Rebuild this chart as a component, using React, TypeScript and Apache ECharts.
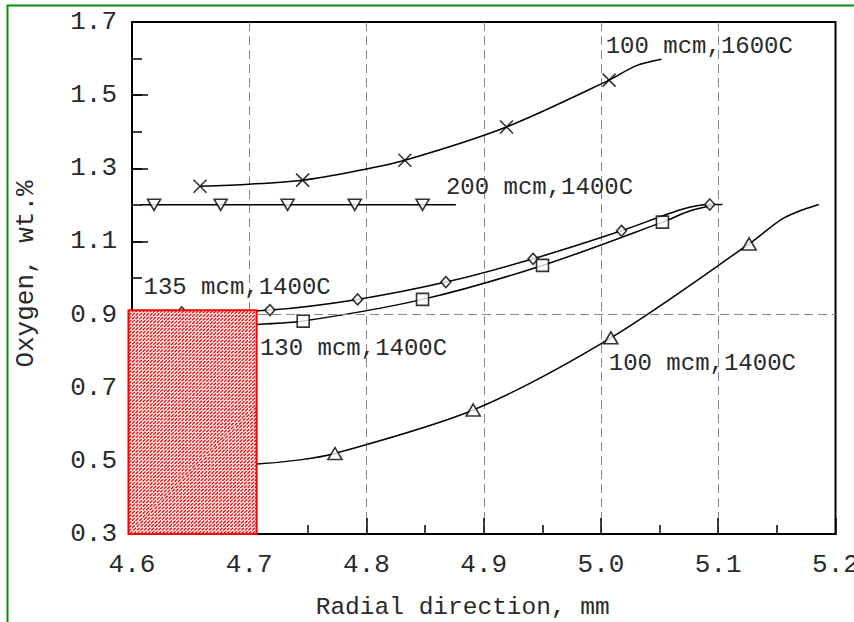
import React, { useEffect, useRef } from 'react';
import * as echarts from 'echarts';

// ---------- data ----------
const xMin = 4.6;
const xMax = 5.2;
const xStep = 0.1;
const yMin = 0.3;
const yMax = 1.7;
const yLabelValues = [0.3, 0.5, 0.7, 0.9, 1.1, 1.3, 1.5, 1.7];
const refLineY = 0.9;

// 100 mcm, 1600C (crosses)
const s1600MarkX = [4.658, 4.7455, 4.8327, 4.9194, 5.0069];
const s1600MarkY = [1.251, 1.2675, 1.322, 1.413, 1.541];
const s1600CurveX = [4.658, 4.7, 4.7455, 4.79, 4.8327, 4.9194, 5.0069, 5.0297, 5.0516];
const s1600CurveY = [1.251, 1.2566, 1.2675, 1.292, 1.322, 1.413, 1.541, 1.58, 1.598];

// 200 mcm, 1400C (down triangles)
const s200MarkX = [4.6188, 4.6756, 4.7327, 4.79, 4.8478];
const s200MarkY = [1.2, 1.2, 1.2, 1.2, 1.2];
const s200CurveX = [4.607, 4.6188, 4.6756, 4.7327, 4.79, 4.8478, 4.8762];
const s200CurveY = [1.2, 1.2, 1.2, 1.2, 1.2, 1.2, 1.2];

// 135 mcm, 1400C (diamonds)
const s135MarkX = [4.6424, 4.7176, 4.7924, 4.8677, 4.9421, 5.0175, 5.0928];
const s135MarkY = [0.906, 0.9123, 0.9415, 0.9888, 1.0525, 1.129, 1.201];
const s135CurveX = [4.6424, 4.7176, 4.7924, 4.8677, 4.9421, 5.0175, 5.0686, 5.0928, 5.1036];
const s135CurveY = [0.906, 0.9123, 0.9415, 0.9888, 1.0525, 1.129, 1.1874, 1.201, 1.201];

// 130 mcm, 1400C (squares)
const s130MarkX = [4.746, 4.8478, 4.9501, 5.0524];
const s130MarkY = [0.8822, 0.9415, 1.0344, 1.1527];
const s130CurveX = [4.65, 4.7063, 4.746, 4.8478, 4.9501, 5.0524, 5.0757, 5.095];
const s130CurveY = [0.866, 0.873, 0.8822, 0.9415, 1.0344, 1.1527, 1.183, 1.198];

// 100 mcm, 1400C (up triangles)
const s100MarkX = [4.7731, 4.891, 5.0084, 5.1263];
const s100MarkY = [0.52, 0.639, 0.8364, 1.0932];
const s100CurveX = [4.66, 4.7063, 4.7432, 4.7731, 4.891, 5.0084, 5.1263, 5.1561, 5.1857];
const s100CurveY = [0.487, 0.4915, 0.5027, 0.52, 0.639, 0.8364, 1.0932, 1.1645, 1.201];

// hatched zone
const zoneX = [4.597, 4.7063];
const zoneY = [0.3, 0.912];

// annotations
const annotationTexts = ['100 mcm,1600C', '200 mcm,1400C', '135 mcm,1400C', '130 mcm,1400C', '100 mcm,1400C'];
const annotationX = [5.004, 4.8677, 4.6098, 4.7091, 5.0066];
const annotationY = [1.634, 1.2484, 0.9751, 0.8085, 0.7675];

const xTitle = 'Radial direction, mm';
const yTitle = 'Oxygen, wt.%';

const FONT = '"Liberation Mono", "Courier New", "DejaVu Sans Mono", monospace';
const TEXT_COLOR = '#2a2a2a';

const zip = (xs: number[], ys: number[]) => xs.map((x, i) => [x, ys[i]]);

export default function App() {
  const ref = useRef<HTMLDivElement>(null);

  useEffect(() => {
    const chart = echarts.init(ref.current!, null, { renderer: 'svg' });

    const lineSeries = (xs: number[], ys: number[]) => ({
      type: 'line',
      data: zip(xs, ys),
      smooth: 0.3,
      showSymbol: false,
      symbol: 'none',
      lineStyle: { color: '#000', width: 1.5 },
      z: 2,
      silent: true,
    });
    const markSeries = (xs: number[], ys: number[], symbol: string, size: any, rotate = 0) => ({
      type: 'scatter',
      data: zip(xs, ys),
      symbol,
      symbolSize: size,
      symbolRotate: rotate,
      itemStyle: { color: '#fff', borderColor: '#000', borderWidth: 1.6 },
      z: 3,
      silent: true,
    });

    const option: any = {
      animation: false,
      backgroundColor: '#fff',
      grid: {
        left: 132,
        top: 22,
        width: 703.5,
        height: 512,
        containLabel: false,
        outerBoundsMode: 'none',
        show: true,
        borderColor: '#000',
        borderWidth: 2,
        backgroundColor: 'transparent',
      },
      xAxis: {
        type: 'value',
        min: xMin,
        max: xMax,
        interval: xStep,
        name: xTitle,
        nameLocation: 'middle',
        nameGap: 61,
        nameTextStyle: { fontFamily: FONT, fontSize: 24.5, color: TEXT_COLOR, padding: [0, 42, 0, 0] },
        axisLine: { show: true, lineStyle: { color: '#000', width: 2 } },
        axisTick: { show: true, inside: true, length: 16, lineStyle: { color: '#000', width: 1.5 } },
        minorTick: { show: true, splitNumber: 2, length: 9, lineStyle: { color: '#000', width: 1.5 } },
        axisLabel: {
          margin: 18,
          fontFamily: FONT,
          fontSize: 26,
          color: TEXT_COLOR,
          formatter: (v: number) => v.toFixed(1),
        },
        splitLine: {
          show: true,
          showMinLine: false,
          showMaxLine: false,
          lineStyle: { color: '#888', width: 1, type: [9, 5] },
        },
      },
      yAxis: [
        {
          type: 'value',
          position: 'left',
          min: yMin,
          max: yMax,
          interval: 0.1,
          name: yTitle,
          nameLocation: 'middle',
          nameGap: 93,
          nameRotate: 90,
          nameTextStyle: { fontFamily: FONT, fontSize: 26, color: TEXT_COLOR, padding: [0, 0, 0, 8] },
          axisLine: { show: true, lineStyle: { color: '#000', width: 2 } },
          axisTick: { show: true, inside: true, length: 10, lineStyle: { color: '#000', width: 1.5 } },
          axisLabel: { show: false },
          splitLine: { show: false },
        },
        {
          type: 'value',
          position: 'left',
          offset: 0,
          min: yMin,
          max: yMax,
          axisLine: { show: false },
          axisTick: {
            show: true,
            inside: true,
            length: 16,
            customValues: yLabelValues,
            lineStyle: { color: '#000', width: 1.5 },
          },
          axisLabel: {
            show: true,
            margin: 15,
            customValues: yLabelValues,
            fontFamily: FONT,
            fontSize: 26,
            color: TEXT_COLOR,
            formatter: (v: number) => v.toFixed(1),
          },
          splitLine: { show: false },
        },
      ],
      series: [
        {
          ...lineSeries(s1600CurveX, s1600CurveY),
          markLine: {
            silent: true,
            symbol: 'none',
            label: { show: false },
            lineStyle: { color: '#888', width: 1, type: [9, 5] },
            data: [{ yAxis: refLineY }],
          },
        },
        lineSeries(s200CurveX, s200CurveY),
        lineSeries(s135CurveX, s135CurveY),
        lineSeries(s130CurveX, s130CurveY),
        lineSeries(s100CurveX, s100CurveY),
        markSeries(s1600MarkX, s1600MarkY, 'path://M0 0L10 10M10 0L0 10', 13),
        markSeries(s200MarkX, s200MarkY, 'triangle', [13, 11], 180),
        markSeries(s135MarkX, s135MarkY, 'diamond', [10, 11]),
        markSeries(s130MarkX, s130MarkY, 'rect', 12),
        markSeries(s100MarkX, s100MarkY, 'triangle', [14, 12]),
        {
          type: 'custom',
          clip: false,
          silent: true,
          z: 10,
          data: [[zoneX[0], zoneY[1], zoneX[1], zoneY[0]]],
          renderItem: (params: any, api: any) => {
            const a = api.coord([api.value(0), api.value(1)]);
            const b = api.coord([api.value(2), api.value(3)]);
            const x0 = Math.min(a[0], b[0]);
            const x1 = Math.max(a[0], b[0]);
            const y0 = Math.min(a[1], b[1]);
            const y1 = Math.max(a[1], b[1]);
            const children: any[] = [
              { type: 'rect', shape: { x: x0, y: y0, width: x1 - x0, height: y1 - y0 }, style: { fill: '#fff', stroke: null } },
            ];
            const step = 3.6;
            for (let c = x0 + y0 + step / 2; c < x1 + y1; c += step) {
              const sx = Math.max(x0, c - y1);
              const ex = Math.min(x1, c - y0);
              if (ex <= sx) continue;
              children.push({
                type: 'line',
                shape: { x1: sx, y1: c - sx, x2: ex, y2: c - ex },
                style: { stroke: '#f21010', lineWidth: 1.4, lineDash: [4, 1] },
              });
            }
            children.push({
              type: 'rect',
              shape: { x: x0, y: y0, width: x1 - x0, height: y1 - y0 },
              style: { fill: 'none', stroke: '#ff0000', lineWidth: 2 },
            });
            return { type: 'group', children };
          },
        },
      ],
    };

    chart.setOption(option);

    const texts = annotationTexts.map((t, i) => {
      const p = chart.convertToPixel({ gridIndex: 0 }, [annotationX[i], annotationY[i]]) as number[];
      return {
        type: 'text',
        x: p[0],
        y: p[1],
        z: 20,
        silent: true,
        style: {
          text: t,
          fontFamily: FONT,
          fontSize: 24,
          fill: TEXT_COLOR,
          align: 'left',
          verticalAlign: 'middle',
        },
      };
    });

    chart.setOption({
      graphic: [
        {
          type: 'rect',
          z: 100,
          silent: true,
          shape: { x: 7.5, y: 5.5, width: 1000, height: 1000 },
          style: { fill: 'none', stroke: '#0a8a0a', lineWidth: 2 },
        },
        ...texts,
      ],
    });

    return () => chart.dispose();
  }, []);

  return (
    <div
      ref={ref}
      style={{ position: 'fixed', left: 0, top: 0, width: 854, height: 622, background: '#fff' }}
    />
  );
}
